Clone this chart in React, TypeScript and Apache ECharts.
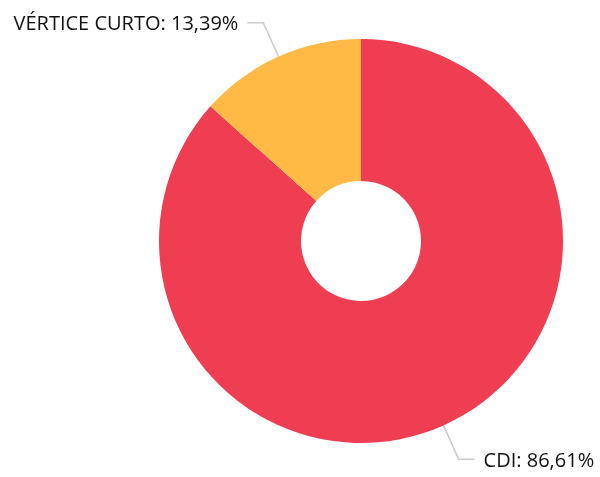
import React, { useEffect, useRef } from "react";
import * as echarts from "echarts";

const categories = ["CDI", "VÉRTICE CURTO"];
const values = [86.61, 13.39];
const colors = ["#EF3D52", "#FFBA45"];

export default function App() {
  const ref = useRef<HTMLDivElement>(null);
  useEffect(() => {
    if (!ref.current) return;
    const chart = echarts.init(ref.current, undefined, { renderer: "svg" });
    chart.setOption({
      animation: false,
      color: colors,
      series: [
        {
          type: "pie",
          center: [361, 241],
          radius: [60, 202],
          startAngle: 90,
          clockwise: true,
          avoidLabelOverlap: false,
          data: categories.map((c, i) => ({ name: c, value: values[i] })),
          label: {
            show: true,
            position: "outside",
            fontFamily: "Open Sans",
            fontSize: 20,
            color: "#111",
            distanceToLabelLine: 9,
            formatter: (p: any) =>
              p.name + ": " + Number(p.value).toFixed(2).replace(".", ",") + "%",
          },
          labelLine: {
            show: true,
            length: 37,
            length2: 16,
            lineStyle: { color: "#ccc", width: 1.5 },
          },
          emphasis: { disabled: true },
        },
      ],
    });
    return () => chart.dispose();
  }, []);
  return (
    <div
      ref={ref}
      style={{ position: "fixed", left: 0, top: 0, width: 600, height: 477 }}
    />
  );
}
